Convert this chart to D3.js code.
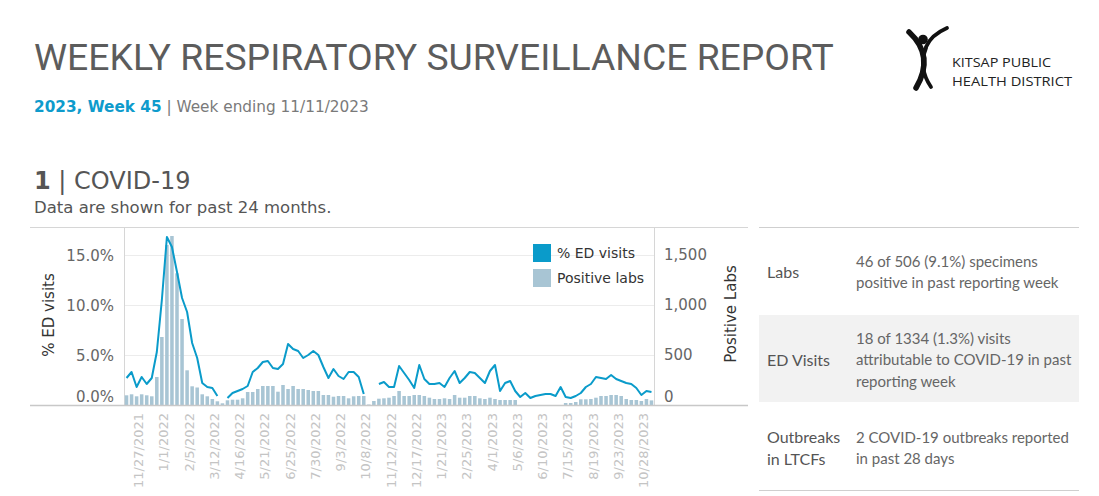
<!DOCTYPE html>
<html><head><meta charset="utf-8">
<script src="https://cdn.jsdelivr.net/npm/d3@7"></script>
<style>body{margin:0;background:#fff;} svg{display:block;}</style>
</head><body><svg id="c" width="1099" height="496"></svg>
<script>
// ---- DATA ----
const weeks = [
"11/6/2021","11/13/2021","11/20/2021","11/27/2021","12/4/2021","12/11/2021","12/18/2021","12/25/2021",
"1/1/2022","1/8/2022","1/15/2022","1/22/2022","1/29/2022","2/5/2022","2/12/2022","2/19/2022","2/26/2022","3/5/2022",
"3/12/2022","3/19/2022","3/26/2022","4/2/2022","4/9/2022","4/16/2022","4/23/2022","4/30/2022","5/7/2022","5/14/2022",
"5/21/2022","5/28/2022","6/4/2022","6/11/2022","6/18/2022","6/25/2022","7/2/2022","7/9/2022","7/16/2022","7/23/2022",
"7/30/2022","8/6/2022","8/13/2022","8/20/2022","8/27/2022","9/3/2022","9/10/2022","9/17/2022","9/24/2022","10/1/2022",
"10/8/2022","10/15/2022","10/22/2022","10/29/2022","11/5/2022","11/12/2022","11/19/2022","11/26/2022","12/3/2022","12/10/2022",
"12/17/2022","12/24/2022","12/31/2022","1/7/2023","1/14/2023","1/21/2023","1/28/2023","2/4/2023","2/11/2023","2/18/2023",
"2/25/2023","3/4/2023","3/11/2023","3/18/2023","3/25/2023","4/1/2023","4/8/2023","4/15/2023","4/22/2023","4/29/2023",
"5/6/2023","5/13/2023","5/20/2023","5/27/2023","6/3/2023","6/10/2023","6/17/2023","6/24/2023","7/1/2023","7/8/2023",
"7/15/2023","7/22/2023","7/29/2023","8/5/2023","8/12/2023","8/19/2023","8/26/2023","9/2/2023","9/9/2023","9/16/2023",
"9/23/2023","9/30/2023","10/7/2023","10/14/2023","10/21/2023","10/28/2023","11/4/2023"];

const edVisitsPct = [
2.7,3.3,1.8,2.8,2.1,2.7,5.3,10.5,16.8,15.8,13.3,10.7,9.3,6.2,4.7,2.2,1.8,1.7,0.9,null,
0.7,1.2,1.4,1.6,1.9,3.3,3.7,4.3,4.4,3.7,3.6,4.1,6.1,5.6,5.4,4.7,5.0,5.4,5.0,3.8,
2.7,3.6,2.9,2.6,3.3,3.3,2.8,1.1,null,null,2.1,2.3,1.8,1.8,3.9,3.2,2.5,1.7,4.0,2.6,
2.1,2.1,2.2,1.8,2.7,3.4,2.2,2.7,3.3,3.2,2.7,2.2,3.4,4.0,1.4,2.2,2.4,1.4,0.8,1.2,
0.7,0.9,1.0,1.1,1.1,0.9,1.8,0.8,0.7,0.9,1.2,1.8,2.1,2.8,2.7,2.6,3.0,2.6,2.4,2.2,
2.1,1.7,1.0,1.4,1.3];

const positiveLabs = [
97,107,87,107,97,87,280,680,1600,1690,1317,860,347,187,175,107,87,60,37,17,
47,53,53,67,130,130,160,190,190,190,133,200,160,190,160,160,150,140,140,100,
100,83,90,90,67,87,90,90,5,40,63,67,73,90,140,90,90,100,100,90,
73,60,60,67,60,100,73,73,90,90,67,60,73,60,50,50,50,50,null,null,
null,null,null,null,null,null,null,20,20,30,57,57,60,73,90,90,100,100,90,60,
50,50,40,60,46];

const tickLabels = ["11/27/2021","1/1/2022","2/5/2022","3/12/2022","4/16/2022","5/21/2022","6/25/2022",
"7/30/2022","9/3/2022","10/8/2022","11/12/2022","12/17/2022","1/21/2023","2/25/2023","4/1/2023",
"5/6/2023","6/10/2023","7/15/2023","8/19/2023","9/23/2023","10/28/2023"];
const leftTicks = [0,5,10,15];
const rightTicks = [0,500,1000,1500];
const legendItems = ["% ED visits","Positive labs"];
const panelRows = [
  {label:["Labs"], text:["46 of 506 (9.1%) specimens","positive in past reporting week"]},
  {label:["ED Visits"], text:["18 of 1334 (1.3%) visits","attributable to COVID-19 in past","reporting week"]},
  {label:["Outbreaks","in LTCFs"], text:["2 COVID-19 outbreaks reported","in past 28 days"]}
];

// ---- DRAW ----
const svg = d3.select("#c");
svg.append("rect").attr("width",1099).attr("height",496).attr("fill","#fff");
const DV = "'DejaVu Sans', sans-serif";
const LINE = "#0a9bca", BAR = "#a8c5d4";

// Header
svg.append("text").attr("x",34).attr("y",70).attr("font-family","Roboto, sans-serif")
  .attr("font-size",37.3).attr("fill","#5c5c5c").text("WEEKLY RESPIRATORY SURVEILLANCE REPORT");
const sub = svg.append("text").attr("x",34).attr("y",112).attr("font-family",DV).attr("font-size",15.3);
sub.append("tspan").attr("font-weight","bold").attr("fill","#0e9bcc").text("2023, Week 45");
sub.append("tspan").attr("fill","#7a7a7a").text(" | Week ending 11/11/2023");

const sec = svg.append("text").attr("x",34).attr("y",189).attr("font-family",DV).attr("font-size",24).attr("fill","#555");
sec.append("tspan").attr("font-weight","bold").text("1");
sec.append("tspan").text(" | COVID-19");
svg.append("text").attr("x",34).attr("y",213).attr("font-family",DV).attr("font-size",16.5).attr("fill","#555")
  .text("Data are shown for past 24 months.");

// Logo
const logo = svg.append("g");
logo.append("circle").attr("cx",923).attr("cy",39.5).attr("r",4.8).attr("fill","#111");
logo.append("path").attr("d","M909,32 Q935,56 916,88").attr("fill","none").attr("stroke","#111").attr("stroke-width",5.5).attr("stroke-linecap","round");
logo.append("path").attr("d","M947,28 Q931,35 926,47").attr("fill","none").attr("stroke","#111").attr("stroke-width",3.8).attr("stroke-linecap","round");
logo.append("path").attr("d","M926,48 Q918,68 931,87").attr("fill","none").attr("stroke","#111").attr("stroke-width",3.8).attr("stroke-linecap","round");
logo.append("text").attr("x",952).attr("y",67).attr("font-family","'Open Sans', sans-serif").attr("font-size",13)
  .attr("fill","#222").attr("textLength",99).attr("lengthAdjust","spacingAndGlyphs").text("KITSAP PUBLIC");
logo.append("text").attr("x",952).attr("y",86).attr("font-family","'Open Sans', sans-serif").attr("font-size",13)
  .attr("fill","#222").attr("textLength",120).attr("lengthAdjust","spacingAndGlyphs").text("HEALTH DISTRICT");

// Chart
const L = 124, R = 654, T = 227, B = 405;
const x = d3.scaleBand().domain(weeks).range([L,R]).paddingInner(0.3).paddingOuter(0.15);
const yL = d3.scaleLinear().domain([0,17.8]).range([B,T]);
const yR = d3.scaleLinear().domain([0,1780]).range([B,T]);

// frame
svg.append("line").attr("x1",30).attr("x2",748).attr("y1",T+0.5).attr("y2",T+0.5).attr("stroke","#d6d6d6");
svg.append("line").attr("x1",L+0.5).attr("x2",L+0.5).attr("y1",T).attr("y2",B).attr("stroke","#d6d6d6");
svg.append("line").attr("x1",R+0.5).attr("x2",R+0.5).attr("y1",T).attr("y2",B).attr("stroke","#d6d6d6");
// grid
svg.append("g").selectAll("line").data(leftTicks.filter(d=>d>0)).join("line")
  .attr("x1",L+1).attr("x2",R).attr("y1",d=>Math.round(yL(d))+0.5).attr("y2",d=>Math.round(yL(d))+0.5)
  .attr("stroke","#ececec").attr("stroke-width",1.2);

// bars
svg.append("g").selectAll("rect").data(weeks.map((w,i)=>({w,v:positiveLabs[i]})).filter(d=>d.v!=null)).join("rect")
  .attr("x",d=>x(d.w)).attr("width",x.bandwidth()).attr("y",d=>yR(d.v)).attr("height",d=>B-yR(d.v)).attr("fill",BAR);

// line
const line = d3.line().defined(d=>d.v!=null).x(d=>x(d.w)+x.bandwidth()/2).y(d=>yL(d.v));
svg.append("path").datum(weeks.map((w,i)=>({w,v:edVisitsPct[i]}))).attr("d",line)
  .attr("fill","none").attr("stroke",LINE).attr("stroke-width",2).attr("stroke-linejoin","round");

// baseline
svg.append("line").attr("x1",30).attr("x2",748).attr("y1",B+0.5).attr("y2",B+0.5).attr("stroke","#c8c8c8").attr("stroke-width",1.3);

// left axis labels
svg.append("g").selectAll("text").data(leftTicks).join("text")
  .attr("x",114).attr("y",d=>d===0?yL(d)-8:yL(d)+1).attr("dy","0.35em").attr("text-anchor","end")
  .attr("font-family",DV).attr("font-size",15).attr("fill","#666").text(d=>d3.format(".1f")(d)+"%");
svg.append("text").attr("transform","translate(54,315) rotate(-90)").attr("text-anchor","middle")
  .attr("font-family",DV).attr("font-size",15).attr("fill","#333").text("% ED visits");
// right axis labels
svg.append("g").selectAll("text").data(rightTicks).join("text")
  .attr("x",664).attr("y",d=>d===0?yR(d)-8:yR(d)).attr("dy","0.35em").attr("text-anchor","start")
  .attr("font-family",DV).attr("font-size",15).attr("fill","#666").text(d=>d3.format(",")(d));
svg.append("text").attr("transform","translate(736,314) rotate(-90)").attr("text-anchor","middle")
  .attr("font-family",DV).attr("font-size",15).attr("fill","#333").text("Positive Labs");

// x labels
svg.append("g").selectAll("text").data(tickLabels).join("text")
  .attr("transform",d=>`translate(${x(d)+x.bandwidth()/2-3},413) rotate(-90)`)
  .attr("text-anchor","end").attr("dy","0.35em")
  .attr("font-family",DV).attr("font-size",13).attr("fill","#c4c4c4").text(d=>d);

// legend
const lg = svg.append("g").selectAll("g").data(legendItems).join("g")
  .attr("transform",(d,i)=>`translate(533,${244+i*25})`);
lg.append("rect").attr("width",18).attr("height",18).attr("fill",(d,i)=>i?BAR:LINE);
lg.append("text").attr("x",24).attr("y",9).attr("dy","0.35em").attr("font-family",DV).attr("font-size",14)
  .attr("fill","#333").text(d=>d);

// right panel
svg.append("rect").attr("x",759).attr("y",315).attr("width",320).attr("height",87).attr("fill","#f2f2f2");
svg.append("line").attr("x1",759).attr("x2",1079).attr("y1",227.5).attr("y2",227.5).attr("stroke","#cfcfcf").attr("stroke-width",1.2);
svg.append("line").attr("x1",759).attr("x2",1079).attr("y1",490.5).attr("y2",490.5).attr("stroke","#cfcfcf").attr("stroke-width",1.2);
const rowCenters = [272, 360, 448];
const PF = "Lato, sans-serif";
panelRows.forEach((r,i)=>{
  const c = rowCenters[i];
  r.label.forEach((t,j)=>svg.append("text").attr("x",767).attr("y",c+(j-(r.label.length-1)/2)*22).attr("dy","0.35em")
    .attr("font-family",PF).attr("font-size",16).attr("fill","#555").text(t));
  r.text.forEach((t,j)=>svg.append("text").attr("x",856).attr("y",c+(j-(r.text.length-1)/2)*21.5).attr("dy","0.35em")
    .attr("font-family",PF).attr("font-size",15).attr("fill","#666").text(t));
});
</script></body></html>
